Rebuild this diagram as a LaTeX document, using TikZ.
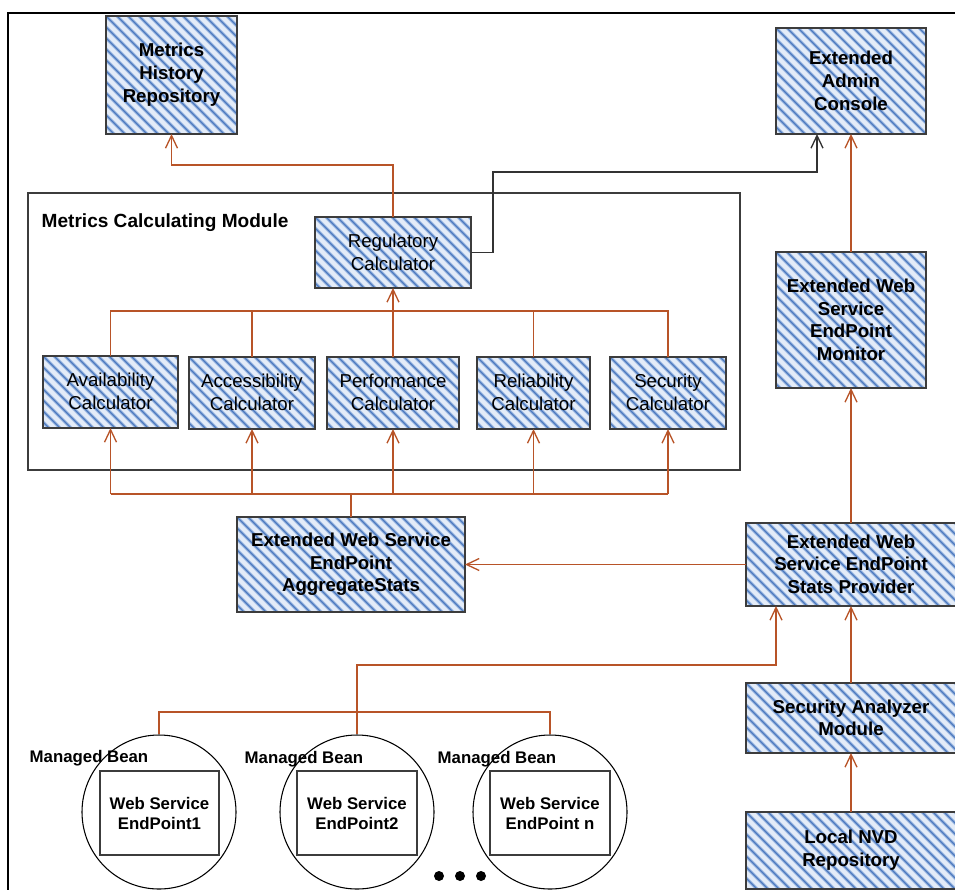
\documentclass[tikz,border=0pt]{standalone}
\usepackage{fontspec}
\setmainfont{Liberation Sans}
\usetikzlibrary{fit,calc,arrows.meta}
\definecolor{brn}{RGB}{184,84,40}
\definecolor{hbg}{RGB}{228,236,248}
\definecolor{hln}{RGB}{74,120,190}
\definecolor{hlt}{RGB}{165,190,228}
\definecolor{bord}{RGB}{60,60,60}
\begin{document}
\begin{tikzpicture}[x=0.75pt,y=-0.75pt,
  hbox/.style={draw=bord, line width=1pt, fill=hbg, inner sep=0pt, outer sep=0pt,
    path picture={
      \foreach \k in {-18,...,24}{
        \draw[hlt, line width=2.4pt] ($(path picture bounding box.north west)+(\k*11,0)$) -- ++(190,190);
        \draw[hln, line width=1.0pt] ($(path picture bounding box.north west)+(\k*11,0)$) -- ++(190,190);
      }}},
  bigtxt/.style={font=\bfseries\fontsize{14}{17}\selectfont, align=center, yshift=0.2pt},
  calctxt/.style={font=\fontsize{14}{17}\selectfont, align=center, yshift=0.3pt},
  smalltxt/.style={font=\bfseries\fontsize{12.6}{15}\selectfont},
  eptxt/.style={font=\bfseries\fontsize{12.6}{15}\selectfont, align=center},
  conn/.style={draw=brn, line width=1pt},
  blk/.style={draw=black!80, line width=1pt},
  arr/.style={-{Straight Barb[length=9.5pt,width=9pt]}},
  plainbox/.style={draw=bord, line width=1pt, inner sep=0pt, outer sep=0pt},
]
\useasboundingbox (0,0) rectangle (955,889);

% outer frame
\draw[line width=2pt] (958,13) -- (8,13) -- (8,892);

% module frame
\node[plainbox, fit={(28,193) (740,470)}] (mcm) {};
\node[anchor=west, font=\bfseries\fontsize{14.3}{17}\selectfont] (mcmlabel) at (37,223) {Metrics Calculating Module};

% boxes
\node[hbox, fit={(106,16) (237,134)}] (mhr) {};
\node[hbox, fit={(776,28) (926,134)}] (eac) {};
\node[hbox, fit={(315,217) (471,288)}] (reg) {};
\node[hbox, fit={(43,356) (178,428)}] (avail) {};
\node[hbox, fit={(189,357) (315,429)}] (acc) {};
\node[hbox, fit={(327,357) (459,429)}] (perf) {};
\node[hbox, fit={(477,357) (590,429)}] (rel) {};
\node[hbox, fit={(610,357) (726,429)}] (sec) {};
\node[hbox, fit={(776,252) (926,388)}] (mon) {};
\node[hbox, fit={(237,517) (465,612)}] (agg) {};
\node[hbox, fit={(746,523) (956,606)}] (stp) {};
\node[hbox, fit={(746,683) (956,753)}] (sam) {};
\node[hbox, fit={(746,812) (956,889)}] (nvd) {};

\node[bigtxt] (mhr-t) at (mhr.center) {Metrics\\History\\Repository};
\node[bigtxt] (eac-t) at (eac.center) {Extended\\Admin\\Console};
\node[calctxt] (reg-t) at (reg.center) {Regulatory\\Calculator};
\node[calctxt] (avail-t) at (avail.center) {Availability\\Calculator};
\node[calctxt] (acc-t) at (acc.center) {Accessibility\\Calculator};
\node[calctxt] (perf-t) at (perf.center) {Performance\\Calculator};
\node[calctxt] (rel-t) at (rel.center) {Reliability\\Calculator};
\node[calctxt] (sec-t) at (sec.center) {Security\\Calculator};
\node[bigtxt] (mon-t) at (mon.center) {Extended Web\\Service\\EndPoint\\Monitor};
\node[bigtxt] (agg-t) at (agg.center) {Extended Web Service\\EndPoint\\AggregateStats};
\node[bigtxt] (stp-t) at (stp.center) {Extended Web\\Service EndPoint\\Stats Provider};
\node[bigtxt] (sam-t) at (sam.center) {Security Analyzer\\Module};
\node[bigtxt] (nvd-t) at (nvd.center) {Local NVD\\Repository};

% managed beans
\foreach \n/\cx in {1/159,2/357,3/550}{
  \node[circle, draw=black, line width=0.8pt, minimum size=115.5pt, inner sep=0pt] (c\n) at (\cx,812) {};
}
\node[plainbox, fit={(100,771) (219,855)}] (ep1) {};
\node[plainbox, fit={(297,771) (417,855)}] (ep2) {};
\node[plainbox, fit={(490,771) (610,855)}] (ep3) {};
\node[eptxt] (ep1-t) at (ep1.center) {Web Service\\EndPoint1};
\node[eptxt] (ep2-t) at (ep2.center) {Web Service\\EndPoint2};
\node[eptxt] (ep3-t) at (ep3.center) {Web Service\\EndPoint n};
\node[anchor=west, smalltxt] (mb1) at (25,758) {Managed Bean};
\node[anchor=west, smalltxt] (mb2) at (240,759) {Managed Bean};
\node[anchor=west, smalltxt] (mb3) at (433,759) {Managed Bean};
\foreach \n/\dx in {1/439,2/460,3/481}{
  \node[circle, fill=black, minimum size=7.5pt, inner sep=0pt] (dot\n) at (\dx,876) {};
}

% connectors
\draw[conn, arr] (reg.north) -- ++(0,-52) -| (mhr.south);
\draw[blk, arr] (reg.east) -- ++(22,0) |- ($(eac.south)+(-34,38)$) -- ($(eac.south)+(-34,0)$);
\draw[conn, arr] (mon.north) -- (eac.south);

\coordinate (tb) at (0,311);
\draw[conn] (avail.north) -- (avail.north |- tb) -- (sec.north |- tb) -- (sec.north);
\draw[conn] (acc.north) -- (acc.north |- tb);
\draw[conn] (rel.north) -- (rel.north |- tb);
\draw[conn, arr] (perf.north) -- (reg.south);

\coordinate (bb) at (351,494);
\draw[conn] (agg.north -| bb) -- (bb);
\draw[conn] (avail.south |- bb) -- (sec.south |- bb);
\foreach \n in {avail,acc,perf,rel,sec}{
  \draw[conn, arr] (\n.south |- bb) -- (\n.south);
}

\draw[conn, arr] (stp.west) -- (agg.east);
\draw[conn, arr] (stp.north) -- (mon.south);
\draw[conn, arr] (sam.north) -- (stp.south);
\draw[conn, arr] (nvd.north) -- (sam.south);

\coordinate (eb) at (0,712);
\draw[conn] (c1.north) -- (c1.north |- eb) -- (c3.north |- eb) -- (c3.north);
\draw[conn] (c2.north) -- (c2.north |- eb);
\draw[conn, arr] (c2.north |- eb) -- ++(0,-47) -| ($(stp.south)+(-75,0)$);
\end{tikzpicture}
\end{document}
